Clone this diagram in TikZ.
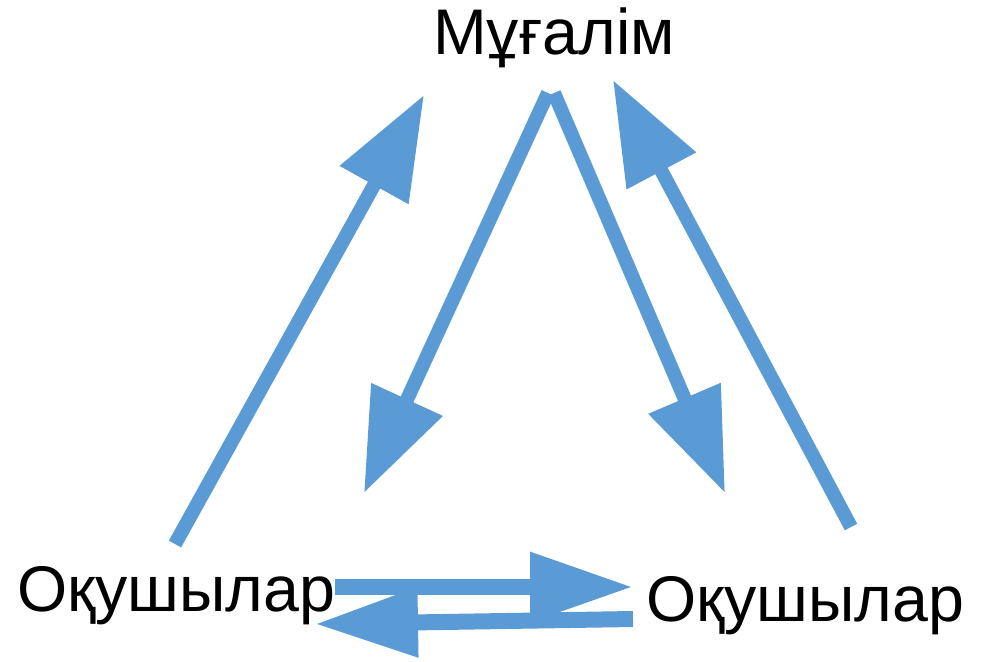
\documentclass[tikz,border=0pt]{standalone}
\usepackage{fontspec}
\setmainfont{Liberation Sans}
\usetikzlibrary{arrows.meta}
\definecolor{flowblue}{HTML}{5B9BD5}
\tikzset{
  label text/.style={inner sep=0pt, font=\fontsize{64.5}{72}\selectfont},
  big arrow/.style={draw=flowblue, line width=14pt,
    -{Triangle[length=103pt,width=75pt]}},
  flat arrow/.style={draw=flowblue, line width=16pt,
    -{Triangle[length=103pt,width=66pt]}}
}
\begin{document}
\begin{tikzpicture}[x=1pt,y=-1pt]
  \useasboundingbox (0,0) rectangle (987,661);

  % labels
  \node[label text, anchor=base] (teacher) at (554,55) {Мұғалім};
  \node[label text, anchor=base west] (pupilsL) at (17,611) {Оқушылар};
  \node[label text, anchor=base west] (pupilsR) at (646,621) {Оқушылар};

  % arrow end points
  \coordinate (lUpTail) at (175,544);
  \coordinate (lUpTip)  at (424,95);
  \coordinate (lDnTail) at (548,93);
  \coordinate (lDnTip)  at (364,493);
  \coordinate (rDnTail) at (554,93);
  \coordinate (rDnTip)  at (725,493);
  \coordinate (rUpTail) at (851,527);
  \coordinate (rUpTip)  at (613,80);
  \coordinate (toRTail) at (335,587);
  \coordinate (toRTip)  at (633,587);
  \coordinate (toLTail) at (633,619);
  \coordinate (toLTip)  at (315,624);

  % teacher <-> pupils
  \draw[big arrow] (lUpTail) -- (lUpTip);
  \draw[big arrow] (lDnTail) -- (lDnTip);
  \draw[big arrow] (rDnTail) -- (rDnTip);
  \draw[big arrow] (rUpTail) -- (rUpTip);

  % pupils <-> pupils
  \draw[flat arrow] (toRTail) -- (toRTip);
  \draw[flat arrow] (toLTail) -- (toLTip);
\end{tikzpicture}
\end{document}
